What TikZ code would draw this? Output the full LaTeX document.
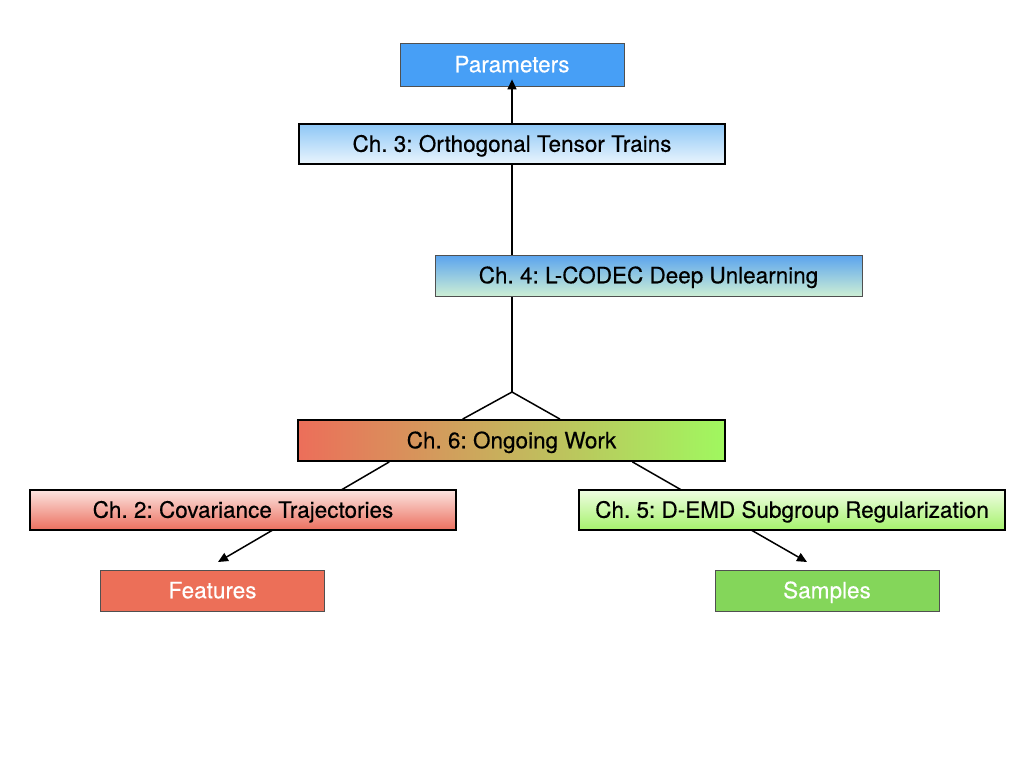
\documentclass[tikz,border=0pt]{standalone}
\usepackage{fontspec}
\setmainfont{TeX Gyre Heros}[BoldFont=TeX Gyre Heros,BoldFeatures={FakeBold=0.35}]
\frenchspacing
\usetikzlibrary{arrows.meta,backgrounds,calc}
\definecolor{parblue}{HTML}{479FF6}
\definecolor{cthreetop}{HTML}{8EC7F6}
\definecolor{cthreebot}{HTML}{EAF5FD}
\definecolor{cfourtop}{HTML}{5AA3EE}
\definecolor{cfourbot}{HTML}{CDEFD5}
\definecolor{ctwotop}{HTML}{FCE4E0}
\definecolor{ctwobot}{HTML}{EB6F5E}
\definecolor{cfivetop}{HTML}{EFFDE2}
\definecolor{cfivebot}{HTML}{A5F26C}
\definecolor{csixleft}{HTML}{EC6E5A}
\definecolor{csixright}{HTML}{A0F85F}
\definecolor{featred}{HTML}{EC6F58}
\definecolor{sampgreen}{HTML}{84D65A}
\definecolor{thinborder}{HTML}{505050}
\begin{document}
\begin{tikzpicture}[x=1pt,y=-1pt,
  txt/.style={font=\fontsize{22.5}{26}\selectfont\bfseries,text height=15.5pt,text depth=0pt},
  chbox/.style={txt,draw=black,line width=1.8pt,inner sep=0pt,minimum width=426pt,minimum height=40pt,text=black},
  thinbox/.style={txt,draw=thinborder,line width=0.8pt,inner sep=0pt,minimum height=41pt},
  endbox/.style={thinbox,minimum width=224pt,text=white},
  conn/.style={draw=black,line width=1.5pt},
  arr/.style={conn,-{Triangle[length=10pt,width=9pt]}}]
\useasboundingbox (0,0) rectangle (1024,768);
\node[endbox,fill=parblue,minimum height=43pt] (par) at (512,64.5) {Parameters};
\node[chbox,top color=cthreetop,bottom color=cthreebot] (c3) at (512,144) {Ch. 3: Orthogonal Tensor Trains};
\node[thinbox,minimum width=427pt,top color=cfourtop,bottom color=cfourbot] (c4) at (648.5,275.5) {Ch. 4: L-CODEC Deep Unlearning};
\node[chbox,minimum width=427pt,minimum height=41pt,left color=csixleft,right color=csixright] (c6) at (511.5,440.5) {Ch. 6: Ongoing Work};
\node[chbox,top color=ctwotop,bottom color=ctwobot] (c2) at (243,510) {Ch. 2: Covariance Trajectories};
\node[chbox,top color=cfivetop,bottom color=cfivebot] (c5) at (792,510) {Ch. 5: D-EMD Subgroup Regularization};
\node[endbox,fill=featred] (feat) at (212.5,590.5) {Features};
\node[endbox,fill=sampgreen] (samp) at (827,590.5) {Samples};
\coordinate (ptip) at ([yshift=7pt]par.south);
\coordinate (junc) at (512,392);
\coordinate (jl) at ($(c6.north west)!0.386!(c6.north east)$);
\coordinate (jr) at ($(c6.north west)!0.613!(c6.north east)$);
\coordinate (sl) at ($(c6.south west)!0.215!(c6.south east)$);
\coordinate (sr) at ($(c6.south west)!0.782!(c6.south east)$);
\coordinate (ftip) at (218,562);
\coordinate (stip) at (807,562);
\begin{pgfonlayer}{background}
\fill[white] (0,0) rectangle (1024,768);
\draw[conn] (c3.south) -- (c4.north -| c3.south);
\draw[conn] (c4.south -| c3.south) -- (junc);
\draw[conn] (jl) -- (junc) -- (jr);
\draw[arr] (sl) -- (ftip);
\draw[arr] (sr) -- (stip);
\end{pgfonlayer}
\draw[arr] (c3.north) -- (ptip);
\end{tikzpicture}
\end{document}
